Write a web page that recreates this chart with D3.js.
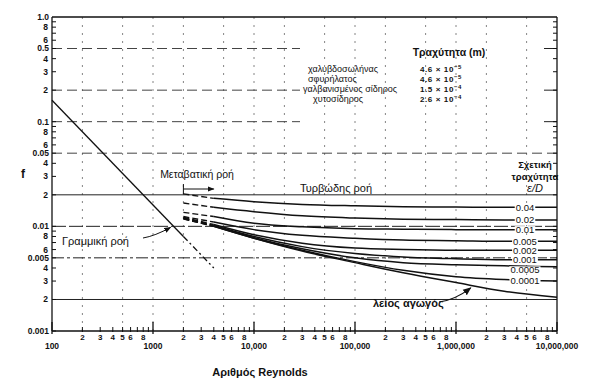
<!DOCTYPE html>
<html><head><meta charset="utf-8">
<script src="https://cdn.jsdelivr.net/npm/d3@7"></script>
<style>
body{margin:0;background:#fff}
svg{display:block}
text{font-family:"Liberation Sans",Arial,sans-serif;fill:#111}
</style>
</head><body>
<svg id="c" width="604" height="385"></svg>
<script>
// ---------- data ----------
const reynolds = [2000, 4000, 10000, 30000, 100000, 300000, 1000000, 3000000, 10000000];
const roughness = ["0.04", "0.02", "0.01", "0.005", "0.002", "0.001", "0.0005", "0.0001"];
const f_0_04   = [0.0204, 0.0185, 0.0172, 0.0162, 0.0157, 0.0154, 0.0153, 0.0152, 0.0152];
const f_0_02   = [0.0167, 0.0152, 0.0138, 0.0126, 0.0120, 0.0117, 0.0116, 0.0115, 0.0115];
const f_0_01   = [0.0136, 0.0124, 0.0107, 0.0099, 0.0095, 0.0094, 0.0093, 0.0093, 0.0093];
const f_0_005  = [0.0124, 0.0110, 0.0093, 0.0082, 0.0077, 0.0074, 0.0073, 0.0072, 0.0072];
const f_0_002  = [0.0122, 0.0104, 0.0083, 0.0069, 0.0062, 0.0060, 0.0059, 0.0059, 0.0059];
const f_0_001  = [0.0120, 0.0102, 0.0080, 0.0064, 0.0055, 0.0051, 0.0049, 0.0048, 0.0048];
const f_0_0005 = [0.0119, 0.0101, 0.0078, 0.0061, 0.0050, 0.0045, 0.0043, 0.0042, 0.0041];
const f_0_0001 = [0.0118, 0.0100, 0.0077, 0.0059, 0.0046, 0.0038, 0.0033, 0.0031, 0.0030];
const f_smooth = [0.0118, 0.0100, 0.0077, 0.0058, 0.0045, 0.0036, 0.0029, 0.0024, 0.0021];
const roughCurves = [f_0_04, f_0_02, f_0_01, f_0_005, f_0_002, f_0_001, f_0_0005, f_0_0001];

const laminarRe = [100, 2000, 4000];
const laminarF  = [0.16, 0.008, 0.004];

const xDecades = [100, 1000, 10000, 100000, 1000000, 10000000];
const xDecadeLabels = ["100", "1000", "10,000", "100,000", "1,000,000", "10,000,000"];
const xMinorLabelMult = [2, 3, 4, 5, 6, 8];
const yDecades = [1, 0.1, 0.01, 0.001];
const yDecadeLabels = ["1.0", "0.1", "0.01", "0.001"];
const yHalfValues = [0.5, 0.05, 0.005];
const yHalfLabels = ["0.5", "0.05", "0.005"];
const yMinorLabelMult = [2, 3, 4, 6, 8];
const hGrid = [0.5, 0.2, 0.1, 0.05, 0.02, 0.01, 0.005, 0.002];
const vGridMult = [1, 2, 5];

const materials = ["χαλυβδοσωλήνας", "σφυρήλατος", "γαλβανισμένος σίδηρος", "χυτοσίδηρος"];
const matMantissa = ["4.6", "4.6", "1.5", "2.6"];
const matExponent = ["−5", "−5", "−4", "−4"];

// ---------- drawing ----------
const svg = d3.select("#c");
svg.append("rect").attr("width", 604).attr("height", 385).attr("fill", "#fff");
const L = 52, R = 557, T = 17, B = 331;
const x = d3.scaleLog().domain([100, 1e7]).range([L, R]);
const y = d3.scaleLog().domain([0.001, 1]).range([B, T]);
const ink = "#111";

// vertical grid
const vGrid = [];
[100, 1000, 10000, 100000, 1000000].forEach(d => vGridMult.forEach(m => { const v = d * m; if (v > 100) vGrid.push(v); }));
svg.append("g").selectAll("line").data(vGrid).join("line")
  .attr("x1", d => x(d)).attr("x2", d => x(d)).attr("y1", T).attr("y2", B)
  .attr("stroke", "#666").attr("stroke-width", 0.8).attr("stroke-dasharray", "2,6");

// horizontal grid
function hDash(v) {
  if (v >= 0.05) return "10,5";
  if (v === 0.01) return "14,3";
  if (v === 0.005) return "12,3,3,3";
  return null;
}
const upper = d => d >= 0.1;   // upper lines are interrupted by the roughness table
const hg = svg.append("g");
hg.selectAll("line.main").data(hGrid).join("line").attr("class", "main")
  .attr("x1", L).attr("x2", d => upper(d) ? 300 : R).attr("y1", d => y(d)).attr("y2", d => y(d))
  .attr("stroke", d => d >= 0.05 ? "#444" : "#222").attr("stroke-width", 1)
  .attr("stroke-dasharray", d => hDash(d));
hg.selectAll("line.stub").data(hGrid.filter(upper)).join("line").attr("class", "stub")
  .attr("x1", R - 13).attr("x2", R).attr("y1", d => y(d)).attr("y2", d => y(d))
  .attr("stroke", "#222").attr("stroke-width", 1);

// frame
const frame = svg.append("g").attr("stroke", ink).attr("fill", "none");
frame.append("line").attr("x1", L).attr("x2", R).attr("y1", T).attr("y2", T).attr("stroke-width", 1.6);
frame.append("line").attr("x1", L).attr("x2", L).attr("y1", T).attr("y2", B).attr("stroke-width", 1.3);
frame.append("line").attr("x1", L).attr("x2", R).attr("y1", B).attr("y2", B).attr("stroke-width", 1.5);
frame.append("line").attr("x1", R).attr("x2", R).attr("y1", T).attr("y2", B).attr("stroke-width", 1.3);

// y ticks (left and right)
const yTicks = [];
[0.001, 0.01, 0.1].forEach(d => d3.range(1, 10).forEach(m => yTicks.push(d * m)));
svg.append("g").selectAll("line").data(yTicks).join("line")
  .attr("x1", L).attr("x2", L + 4).attr("y1", d => y(d)).attr("y2", d => y(d))
  .attr("stroke", ink).attr("stroke-width", 1);
svg.append("g").selectAll("line").data(yTicks).join("line")
  .attr("x1", R - 4).attr("x2", R).attr("y1", d => y(d)).attr("y2", d => y(d))
  .attr("stroke", ink).attr("stroke-width", 1);

// x ticks
const xMinorTicks = [];
[100, 1000, 10000, 100000, 1000000].forEach(d => d3.range(2, 10).forEach(m => xMinorTicks.push(d * m)));
svg.append("g").selectAll("line").data(xMinorTicks).join("line")
  .attr("x1", d => x(d)).attr("x2", d => x(d)).attr("y1", B - 4).attr("y2", B + 1)
  .attr("stroke", ink).attr("stroke-width", 1);
svg.append("g").selectAll("line").data(xDecades).join("line")
  .attr("x1", d => x(d)).attr("x2", d => x(d)).attr("y1", B - 9).attr("y2", B + 3)
  .attr("stroke", ink).attr("stroke-width", 1.3);

// y tick labels
const yl = svg.append("g").attr("font-size", 8.5).attr("font-weight", "bold").attr("text-anchor", "end");
yDecades.forEach((v, i) => yl.append("text").attr("x", L - 3).attr("y", y(v)).attr("dy", "0.35em").text(yDecadeLabels[i]));
yHalfValues.forEach((v, i) => yl.append("text").attr("x", L - 3).attr("y", y(v)).attr("dy", "0.35em").text(yHalfLabels[i]));
[0.1, 0.01, 0.001].forEach(d => yMinorLabelMult.forEach(m =>
  yl.append("text").attr("x", L - 4).attr("y", y(d * m)).attr("dy", "0.35em").text(String(m))));

// x tick labels
const xl = svg.append("g").attr("font-size", 8).attr("font-weight", "bold").attr("text-anchor", "middle");
[100, 1000, 10000, 100000, 1000000].forEach(d => xMinorLabelMult.forEach(m =>
  xl.append("text").attr("x", x(d * m)).attr("y", B + 9).text(String(m))));
xDecades.forEach((d, i) => xl.append("text").attr("x", x(d)).attr("y", B + 18).attr("font-size", 8.5).text(xDecadeLabels[i]));

// axis titles
svg.append("text").attr("x", 260).attr("y", 376).attr("text-anchor", "middle")
  .attr("font-size", 11).attr("font-weight", "bold").text("Αριθμός Reynolds");
svg.append("text").attr("x", 23).attr("y", 178).attr("text-anchor", "middle")
  .attr("font-size", 12).attr("font-weight", "bold").text("f");

// laminar line
const lam = laminarRe.map((r, i) => [x(r), y(laminarF[i])]);
svg.append("line").attr("x1", lam[0][0]).attr("y1", lam[0][1]).attr("x2", lam[1][0]).attr("y2", lam[1][1])
  .attr("stroke", ink).attr("stroke-width", 1.3);
svg.append("line").attr("x1", lam[1][0]).attr("y1", lam[1][1]).attr("x2", lam[2][0]).attr("y2", lam[2][1])
  .attr("stroke", ink).attr("stroke-width", 1.3).attr("stroke-dasharray", "6,3,2,3");

// turbulent curves
const line = d3.line().x(d => x(d[0])).y(d => y(d[1])).curve(d3.curveMonotoneX);
const allCurves = roughCurves.concat([f_smooth]);
allCurves.forEach(vals => {
  const pts = reynolds.map((r, i) => [r, vals[i]]);
  svg.append("path").attr("d", line(pts.slice(0, 2))).attr("fill", "none")
    .attr("stroke", ink).attr("stroke-width", 1.4).attr("stroke-dasharray", "6,3");
  svg.append("path").attr("d", line(pts.slice(1))).attr("fill", "none")
    .attr("stroke", ink).attr("stroke-width", 1.5);
});

// roughness labels on the right
const lblX = 525;
const lg = svg.append("g").attr("font-size", 9.5);
roughness.forEach((lab, i) => {
  const vals = roughCurves[i];
  const yy = y(vals[vals.length - 1]) + (lab === "0.0005" ? 3 : 0);
  const t = lg.append("text").attr("x", lblX).attr("y", yy).attr("dy", "0.35em")
    .attr("text-anchor", "middle").text(lab);
  const bb = t.node().getBBox();
  lg.insert("rect", "text").attr("x", bb.x - 1).attr("y", yy - 3.5).attr("width", bb.width + 2)
    .attr("height", 7).attr("fill", "#fff");
});
lg.selectAll("text").raise();

// right header
const hdr = svg.append("g").attr("font-size", 9.5).attr("font-weight", "bold").attr("text-anchor", "middle");
hdr.append("text").attr("x", 535).attr("y", 168).text("Σχετική");
hdr.append("text").attr("x", 535).attr("y", 180).text("τραχύτητα");
hdr.append("text").attr("x", 535).attr("y", 192).attr("font-style", "italic").attr("font-weight", "normal")
  .attr("font-family", "Liberation Serif, serif").attr("font-size", 11).text("ε/D");

// flow regime annotations
svg.append("text").attr("x", 197).attr("y", 178).attr("text-anchor", "middle").attr("font-size", 10.5).text("Μεταβατική ροή");
svg.append("text").attr("x", 336).attr("y", 192).attr("text-anchor", "middle").attr("font-size", 11).text("Τυρβώδης ροή");
svg.append("text").attr("x", 62).attr("y", 245).attr("font-size", 11).text("Γραμμική ροή");
svg.append("text").attr("x", 373).attr("y", 307).attr("font-size", 11).attr("font-weight", "bold").text("λείος αγωγός");

// arrow markers
const defs = svg.append("defs");
defs.append("marker").attr("id", "ah").attr("viewBox", "0 0 10 10").attr("refX", 9).attr("refY", 5)
  .attr("markerWidth", 7).attr("markerHeight", 7).attr("orient", "auto")
  .append("path").attr("d", "M0,1 L10,5 L0,9 z").attr("fill", ink);

// transition bracket arrow
const ay = 189;
svg.append("line").attr("x1", x(2000)).attr("x2", x(2000)).attr("y1", ay - 5).attr("y2", ay + 5).attr("stroke", ink).attr("stroke-width", 1);
svg.append("line").attr("x1", x(2000)).attr("x2", x(4000)).attr("y1", ay).attr("y2", ay)
  .attr("stroke", ink).attr("stroke-width", 1).attr("marker-end", "url(#ah)");

// laminar pointer
svg.append("path").attr("d", `M143,238 Q155,236 ${x(1600) - 3},${y(16 / 1600) + 1}`)
  .attr("fill", "none").attr("stroke", ink).attr("stroke-width", 1).attr("marker-end", "url(#ah)");
// smooth pipe pointer
svg.append("path").attr("d", `M439,302 Q455,300 ${x(1.4e6)},${y(0.0027) + 2}`)
  .attr("fill", "none").attr("stroke", ink).attr("stroke-width", 1.2).attr("marker-end", "url(#ah)");

// roughness table
svg.append("text").attr("x", 449).attr("y", 56).attr("text-anchor", "middle")
  .attr("font-size", 10.5).attr("font-weight", "bold").text("Τραχύτητα (m)");
const tb = svg.append("g");
materials.forEach((m, i) => {
  const yy = 72 + i * 10;
  tb.append("text").attr("x", i === 2 ? 303 : (i === 3 ? 313 : 308)).attr("y", yy).attr("font-size", 9).text(m);
  const t = tb.append("text").attr("x", 420).attr("y", yy).attr("font-size", 8).attr("font-weight", "bold")
    .attr("letter-spacing", 0.6);
  t.append("tspan").text(matMantissa[i] + " × 10");
  t.append("tspan").attr("dy", -3).attr("font-size", 6).text(matExponent[i]);
});
</script>
</body></html>
